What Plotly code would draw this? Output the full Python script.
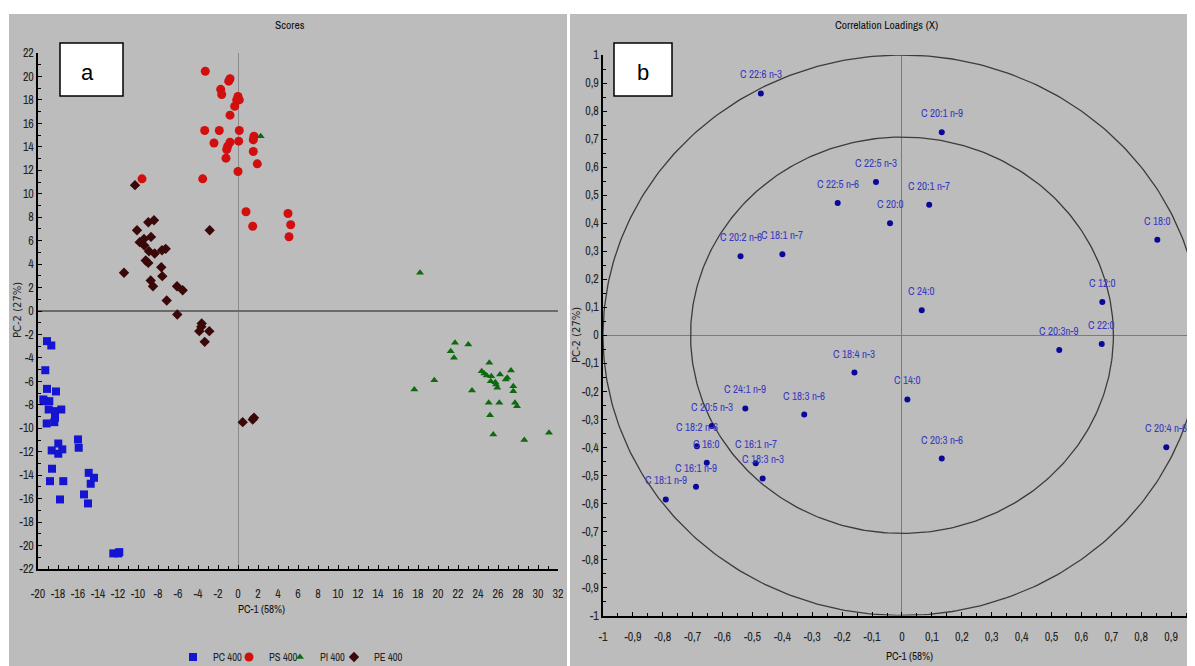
import numpy as np
import plotly.graph_objects as go

# ---------------- Scores (panel a) ----------------
pc_x = [-19.1, -18.67, -19.27, -19.1, -18.2, -19.47, -19.4, -18.87, -18.93, -18.3, -18.3, -17.67,
        -19.13, -18.37, -18.63, -17.97, -17.97, -17.57, -16.0, -15.93, -18.6, -18.8, -17.47,
        -14.93, -14.73, -14.4, -17.8, -15.4, -15.0, -12.47, -11.97, -11.87]
pc_y = [-2.57, -2.94, -5.05, -6.64, -6.86, -7.54, -7.69, -7.69, -8.4, -8.54, -9.1, -8.4,
        -9.59, -9.48, -11.89, -11.3, -12.17, -11.8, -10.95, -11.66, -13.45, -14.51, -14.51,
        -13.8, -14.73, -14.22, -16.07, -15.64, -16.41, -20.67, -20.67, -20.56]

ps_x = [-3.27, -0.8, -0.93, -1.73, -1.63, 0.0, 0.13, -0.13, -0.33, -0.8, -3.33, -1.87, 0.13,
        1.6, 1.53, -2.4, -0.8, -1.03, -1.13, 0.07, 1.53, -1.2, 1.93, 0.0, -3.53, -9.6,
        0.8, 1.47, 5.0, 5.27, 5.1]
ps_y = [20.44, 19.8, 19.6, 18.9, 18.46, 18.3, 18.0, 18.0, 17.46, 16.7, 15.39, 15.39, 15.39,
        14.9, 14.6, 14.33, 14.4, 14.05, 13.77, 14.48, 13.6, 13.03, 12.55, 11.9, 11.27, 11.27,
        8.46, 7.23, 8.31, 7.35, 6.33]

pi_x = [2.27, 18.2, 21.7, 21.27, 21.6, 23.03, 17.63, 19.63, 23.4, 24.37, 24.63, 24.87, 25.13,
        25.33, 25.27, 25.8, 25.93, 25.73, 26.2, 26.77, 26.93, 27.3, 27.53, 27.53, 27.7, 27.9,
        25.07, 26.13, 25.2, 25.53, 28.63, 31.1]
pi_y = [14.9, 3.26, -2.71, -3.43, -3.99, -2.86, -6.69, -5.9, -6.78, -5.13, -5.33, -5.5, -4.42,
        -5.56, -5.98, -6.27, -6.55, -6.07, -5.41, -5.84, -5.7, -5.07, -6.41, -6.84, -7.83, -8.12,
        -7.83, -7.83, -8.88, -10.53, -11.01, -10.38]

pe_x = [-10.3, -2.83, -10.1, -8.97, -8.4, -9.83, -9.4, -9.37, -8.7, -8.9, -9.23, -8.97, -8.33,
        -7.6, -7.23, -11.4, -7.67, -7.57, -8.73, -8.5, -6.1, -5.53, -7.13, -6.07, -3.63, -3.87,
        -3.67, -2.87, -3.33, 0.47, 1.47, 1.6]
pe_y = [10.73, 6.89, 6.89, 7.57, 7.74, 5.87, 6.15, 5.58, 6.32, 5.1, 4.3, 4.1, 4.9,
        5.18, 5.3, 3.26, 3.73, 2.97, 2.6, 2.11, 2.11, 1.77, 0.9, -0.3, -1.07, -1.72,
        -1.35, -1.72, -2.63, -9.48, -9.25, -9.1]

group_names = ["PC 400", "PS 400", "PI 400", "PE 400"]

# ---------------- Correlation loadings (panel b) ----------------
load_names = ["C 22:6 n-3", "C 22:5 n-6", "C 22:5 n-3", "C 20:0", "C 20:2 n-6", "C 18:1 n-7",
              "C 20:1 n-9", "C 20:1 n-7", "C 18:0", "C 12:0", "C 24:0", "C 22:0", "C 20:3n-9",
              "C 14:0", "C 20:3 n-6", "C 20:4 n-6", "C 18:4 n-3", "C 18:3 n-6", "C 24:1 n-9",
              "C 20:5 n-3", "C 18:2 n-6", "C 16:0", "C 16:1 n-9", "C 18:1 n-9", "C 16:1 n-7",
              "C 18:3 n-3"]
load_x = [-0.472, -0.215, -0.087, -0.04, -0.54, -0.40,
          0.133, 0.091, 0.854, 0.670, 0.066, 0.668, 0.526,
          0.018, 0.133, 0.884, -0.159, -0.327, -0.524,
          -0.636, -0.686, -0.653, -0.689, -0.79, -0.489,
          -0.466]
load_y = [0.863, 0.472, 0.547, 0.40, 0.282, 0.289,
          0.724, 0.466, 0.341, 0.119, 0.089, -0.031, -0.053,
          -0.229, -0.44, -0.40, -0.133, -0.283, -0.261,
          -0.324, -0.396, -0.455, -0.541, -0.586, -0.457,
          -0.511]

# tick labels
xa_ticks = list(range(-20, 33, 2))
ya_ticks = list(range(-22, 23, 2))
xb_ticks = [round(-1 + 0.1 * i, 1) for i in range(20)]
yb_ticks = [round(-1 + 0.1 * i, 1) for i in range(21)]


def lab(v):
    return f"{v:g}".replace(".", ",")


# the page body has an 8px margin, so the figure is drawn 8px in from the window edge
OFF = 8
W, H = 1195 - OFF, 666 - OFF
NARROW = ("Arial Narrow, Liberation Sans Narrow, Archivo Narrow, PT Sans Narrow, "
          "Roboto Condensed, Sofia Sans Condensed, Liberation Sans, sans-serif")
BG = "#bcbcbc"


def px(p):
    return (p - OFF) / W


def py(p):
    return 1 - (p - OFF) / H


fig = go.Figure()

marker_specs = [
    (pc_x, pc_y, dict(symbol="square", size=8, color="#1414d2")),
    (ps_x, ps_y, dict(symbol="circle", size=9, color="#d20e0e")),
    (pi_x, pi_y, dict(symbol="triangle-up", size=7, color="#0d6a0d")),
    (pe_x, pe_y, dict(symbol="diamond", size=8, color="#3a0808")),
]
legend_ids = ["legend", "legend2", "legend3", "legend4"]
for (xs, ys, mk), name, lg in zip(marker_specs, group_names, legend_ids):
    fig.add_trace(go.Scatter(x=xs, y=ys, mode="markers", name=name, marker=mk,
                             xaxis="x", yaxis="y", legend=lg))

# correlation circles (radius 1 and sqrt(0.5))
theta = np.linspace(0, 2 * np.pi, 400)
for r in [1.0, np.sqrt(0.5)]:
    fig.add_trace(go.Scatter(x=r * np.cos(theta), y=r * np.sin(theta), mode="lines",
                             line=dict(color="#3c3c3c", width=1.3), showlegend=False,
                             hoverinfo="skip", xaxis="x2", yaxis="y2"))

fig.add_trace(go.Scatter(x=load_x, y=load_y, mode="markers", showlegend=False,
                         marker=dict(size=6, color="#08089a"), text=load_names,
                         xaxis="x2", yaxis="y2"))

for n, xv, yv in zip(load_names, load_x, load_y):
    fig.add_annotation(x=xv, y=yv, xref="x2", yref="y2", text=n, showarrow=False,
                       yshift=19, font=dict(family=NARROW, size=11, color="#3838c0"))

axis_common = dict(showline=True, linecolor="black", linewidth=1.5, showgrid=False,
                   ticks="inside", ticklen=4, tickcolor="black", tickwidth=1,
                   tickfont=dict(family=NARROW, size=12, color="#222222"))

fig.update_layout(
    width=W, height=H, margin=dict(l=0, r=0, t=0, b=0, autoexpand=False),
    paper_bgcolor="white", plot_bgcolor=BG,
    xaxis=dict(domain=[px(38), px(558)], range=[-20, 32], anchor="y",
               tickmode="array", tickvals=xa_ticks, ticktext=[lab(v) for v in xa_ticks],
               minor=dict(tickmode="linear", tick0=0, dtick=1, ticks="inside", ticklen=3,
                          tickcolor="black"),
               zeroline=True, zerolinecolor="#8a8a8a", zerolinewidth=1,
               ticklabelstandoff=13, **axis_common),
    yaxis=dict(domain=[py(569), py(53)], range=[-22, 22], anchor="x",
               tickmode="array", tickvals=ya_ticks, ticktext=[lab(v) for v in ya_ticks],
               minor=dict(tickmode="linear", tick0=0, dtick=1, ticks="inside", ticklen=3,
                          tickcolor="black"),
               zeroline=True, zerolinecolor="#6a6a6a", zerolinewidth=2, **axis_common),
    xaxis2=dict(domain=[px(603), 1.0], range=[-1, 0.98], anchor="y2",
                tickmode="array", tickvals=xb_ticks, ticktext=[lab(v) for v in xb_ticks],
                minor=dict(tickmode="linear", tick0=0, dtick=0.05, ticks="inside", ticklen=3,
                           tickcolor="black"),
                zeroline=True, zerolinecolor="#7a7a7a", zerolinewidth=1.3,
                ticklabelstandoff=9, **axis_common),
    yaxis2=dict(domain=[py(615.5), py(55)], range=[-1, 1], anchor="x2",
                tickmode="array", tickvals=yb_ticks, ticktext=[lab(v) for v in yb_ticks],
                minor=dict(tickmode="linear", tick0=0, dtick=0.05, ticks="inside", ticklen=3,
                           tickcolor="black"),
                zeroline=True, zerolinecolor="#7a7a7a", zerolinewidth=1.3, **axis_common),
    showlegend=True,
)

leg_sym_x = [194, 250, 301, 355]
for lg, sx in zip(legend_ids, leg_sym_x):
    fig.update_layout({lg: dict(x=px(sx - 21), y=py(657), xanchor="left", yanchor="middle",
                                orientation="h", bgcolor="rgba(0,0,0,0)", itemwidth=30,
                                font=dict(family=NARROW, size=10.5, color="#222222"))})

# panel backgrounds
fig.add_shape(type="rect", xref="paper", yref="paper", x0=px(9), x1=px(567), y0=0, y1=py(14),
              fillcolor=BG, line=dict(width=0), layer="below")
fig.add_shape(type="rect", xref="paper", yref="paper", x0=px(570), x1=1, y0=0, y1=py(14),
              fillcolor=BG, line=dict(width=0), layer="below")

# a / b boxes
for (x0, x1, letter, tx) in [(60, 123, "a", 87), (614, 672, "b", 643)]:
    fig.add_shape(type="rect", xref="paper", yref="paper", x0=px(x0), x1=px(x1),
                  y0=py(96), y1=py(43), fillcolor="white", line=dict(color="black", width=1.5))
    fig.add_annotation(x=px(tx), y=py(72), xref="paper", yref="paper", text=letter,
                       xanchor="center", yanchor="middle", showarrow=False,
                       font=dict(family="Liberation Sans, Arial", size=22, color="black"))

# titles and axis titles
texts = [
    ("Scores", 290, 25, 11.5),
    ("Correlation Loadings (X)", 886, 25, 11.5),
    ("PC-1 (58%)", 262, 609, 11),
    ("PC-1 (58%)", 909, 656, 11),
]
for t, x, y, s in texts:
    fig.add_annotation(x=px(x), y=py(y), xref="paper", yref="paper", text=t, showarrow=False,
                       xanchor="center", yanchor="middle",
                       font=dict(family=NARROW, size=s, color="#111111"))
for x, y in [(17, 310), (576, 335)]:
    fig.add_annotation(x=px(x), y=py(y), xref="paper", yref="paper", text="PC-2 (27%)",
                       textangle=-90, showarrow=False, xanchor="center", yanchor="middle",
                       font=dict(family="DejaVu Sans, sans-serif", size=10, color="#222222"))

fig.write_html("out.html")
